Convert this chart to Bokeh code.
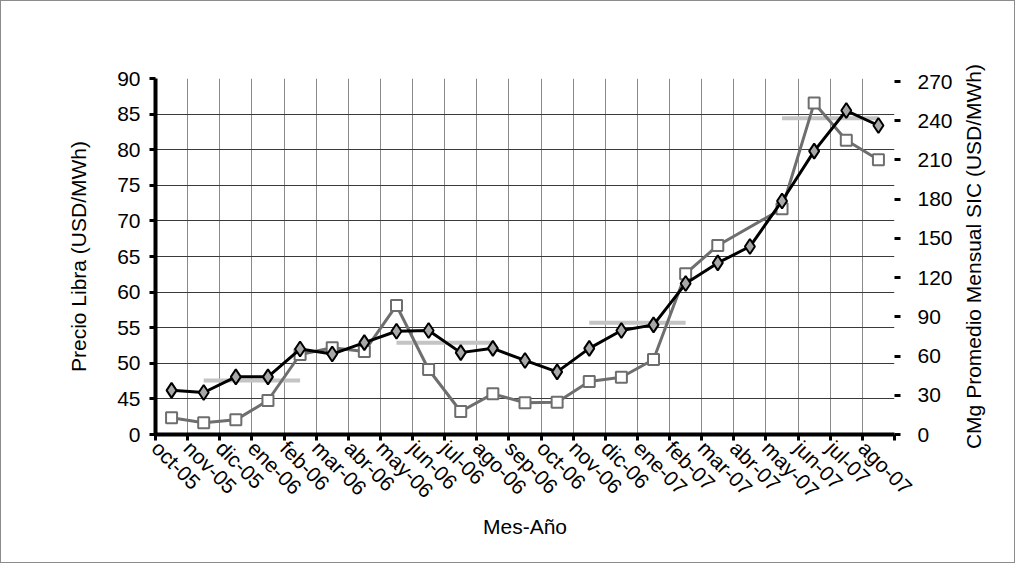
import math
from bokeh.plotting import figure
from bokeh.models import (ColumnDataSource, Range1d, LinearAxis, FixedTicker, Label)
from bokeh.embed import file_html
from bokeh.resources import INLINE

# ---------------- data ----------------
meses = ["oct-05", "nov-05", "dic-05", "ene-06", "feb-06", "mar-06", "abr-06",
         "may-06", "jun-06", "jul-06", "ago-06", "sep-06", "oct-06", "nov-06",
         "dic-06", "ene-07", "feb-07", "mar-07", "abr-07", "may-07", "jun-07",
         "jul-07", "ago-07"]

precio_libra = [46.2, 45.9, 48.1, 48.1, 52.0, 51.3, 52.9, 54.5, 54.6, 51.5,
                52.1, 50.4, 48.8, 52.1, 54.6, 55.4, 61.2, 64.1, 66.4, 72.8,
                79.8, 85.5, 83.4]

cmg_sic = [12.8, 9.0, 11.2, 26.0, 61.2, 66.3, 63.5, 98.7, 49.7, 17.6, 31.1,
           24.3, 24.7, 40.6, 43.8, 57.4, 123.0, 144.6, None, 172.7, 253.5,
           225.0, 210.2]

precio_nudo = [None, 47.6, 47.6, 47.6, 47.6, None, None, 52.9, 52.9, 52.9,
               52.9, None, None, 55.7, 55.7, 55.7, 55.7, None, None, 84.4,
               84.4, 84.4, 84.4]

left_ticks = [40, 45, 50, 55, 60, 65, 70, 75, 80, 85, 90]
left_tick_labels = {40: "0"}
right_ticks = [0, 30, 60, 90, 120, 150, 180, 210, 240, 270]
right_title = "CMg Promedio Mensual SIC (USD/MWh)"

# ---------------- figure ----------------
n = len(meses)
xs = [i + 0.5 for i in range(n)]

W, H = 1015, 563
BL, BR, BT, BB = 154, 122, 77, 130
p = figure(width=W, height=H, output_backend="svg", toolbar_location=None,
           x_range=Range1d(0, n), y_range=Range1d(40, 90),
           min_border_left=BL, min_border_right=BR,
           min_border_top=BT, min_border_bottom=BB)
p.styles = {"border": "1px solid #8c8c8c"}
p.outline_line_color = None
p.background_fill_color = "white"
p.border_fill_color = "white"

p.extra_y_ranges = {"cmg": Range1d(0, 272.3)}

FONT = "Liberation Sans"
TICK_FS = "21px"
LABEL_FS = "21px"

# x axis (ticks at category boundaries, labels anchored at left boundary)
xticker = FixedTicker(ticks=list(range(n + 1)))
xa = p.xaxis[0]
xa.ticker = xticker
xa.major_label_overrides = {**{i: meses[i] for i in range(n)}, n: ""}
xa.major_label_orientation = -math.pi / 4
xa.axis_label = "Mes-Año"
xa.axis_line_width = 4
xa.axis_line_color = "black"
xa.major_tick_line_width = 3
xa.major_tick_line_color = "black"
xa.major_tick_out = 6
xa.major_tick_in = 0
xa.minor_tick_line_color = None
xa.major_label_standoff = 4
xa.axis_label_standoff = 2
xa.major_label_text_font = FONT
xa.major_label_text_font_size = TICK_FS
xa.major_label_text_color = "black"
xa.axis_label_text_font = FONT
xa.axis_label_text_font_size = LABEL_FS
xa.axis_label_text_font_style = "normal"
xa.axis_label_text_color = "black"

# left axis
ya = p.yaxis[0]
ya.ticker = FixedTicker(ticks=left_ticks)
ya.major_label_overrides = left_tick_labels
ya.axis_label = "Precio Libra (USD/MWh)"
ya.axis_line_width = 4
ya.axis_line_color = "black"
ya.major_tick_line_width = 3
ya.major_tick_line_color = "black"
ya.major_tick_out = 6
ya.major_tick_in = 0
ya.minor_tick_line_color = None
ya.major_label_standoff = 9
ya.axis_label_standoff = 24
ya.major_label_text_font = FONT
ya.major_label_text_font_size = TICK_FS
ya.major_label_text_color = "black"
ya.axis_label_text_font = FONT
ya.axis_label_text_font_size = LABEL_FS
ya.axis_label_text_font_style = "normal"
ya.axis_label_text_color = "black"

# right axis
ra = LinearAxis(y_range_name="cmg", ticker=FixedTicker(ticks=right_ticks))
ra.axis_line_color = None
ra.major_tick_line_width = 3
ra.major_tick_line_color = "black"
ra.major_tick_out = 6
ra.major_tick_in = 0
ra.minor_tick_line_color = None
ra.major_label_standoff = 17
ra.major_label_text_font = FONT
ra.major_label_text_font_size = TICK_FS
ra.major_label_text_color = "black"
p.add_layout(ra, "right")

# right axis title, reading bottom-to-top like the reference
frame_h = H - BT - BB
p.add_layout(Label(x=18, y=frame_h / 2, x_units="screen", y_units="screen",
                   text=right_title, angle=math.pi / 2, text_align="center",
                   text_baseline="middle", text_font=FONT,
                   text_font_size=LABEL_FS, text_color="black"), "right")

# grids
p.xgrid.ticker = xticker
p.xgrid.grid_line_color = "#8a8a8a"
p.xgrid.grid_line_width = 1
p.ygrid.ticker = FixedTicker(ticks=left_ticks)
p.ygrid.grid_line_color = "#3a3a3a"
p.ygrid.grid_line_width = 1

# ---------------- series ----------------
nan = float("nan")
src_nudo = ColumnDataSource(dict(x=xs, y=[nan if v is None else v for v in precio_nudo]))
p.line("x", "y", source=src_nudo, line_color="#c4c4c4", line_width=4)

cm_x = [x for x, v in zip(xs, cmg_sic) if v is not None]
cm_y = [v for v in cmg_sic if v is not None]
src_cmg = ColumnDataSource(dict(x=cm_x, y=cm_y))
p.line("x", "y", source=src_cmg, y_range_name="cmg", line_color="#6e6e6e",
       line_width=3)
p.scatter("x", "y", source=src_cmg, y_range_name="cmg", marker="square",
          size=11, fill_color="white", line_color="#6e6e6e", line_width=2)

src_lib = ColumnDataSource(dict(x=xs, y=precio_libra))
p.line("x", "y", source=src_lib, line_color="black", line_width=3)
p.scatter("x", "y", source=src_lib, marker="diamond", size=15,
          fill_color="#a8a8a8", line_color="black", line_width=2)

open("out.html", "w").write(file_html(p, INLINE))
